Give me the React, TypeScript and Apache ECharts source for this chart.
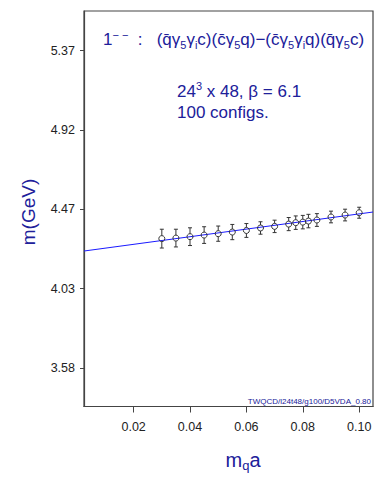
import React, { useEffect, useRef } from "react";
import * as echarts from "echarts";

const quarkMass = [0.03, 0.035, 0.04, 0.045, 0.05, 0.055, 0.06, 0.065, 0.07, 0.075, 0.0775, 0.08, 0.082, 0.085, 0.09, 0.095, 0.1];
const mesonMass = [4.310, 4.313, 4.321, 4.330, 4.338, 4.347, 4.356, 4.370, 4.379, 4.392, 4.400, 4.403, 4.409, 4.415, 4.432, 4.443, 4.456];
const massError = [0.053, 0.050, 0.050, 0.047, 0.043, 0.043, 0.039, 0.035, 0.035, 0.037, 0.038, 0.038, 0.038, 0.036, 0.033, 0.033, 0.031];
const fitLine = [[0.0024, 4.240], [0.1049, 4.460]];
const yTicks = [3.58, 4.0275, 4.475, 4.9225, 5.37];
const yTickLabels = ["3.58", "4.03", "4.47", "4.92", "5.37"];
const xTicks = [0.02, 0.04, 0.06, 0.08, 0.1];
const xTickLabels = ["0.02", "0.04", "0.06", "0.08", "0.10"];

const BLUE = "#20209a";
const FONT = "Liberation Sans, Arial, sans-serif";

export default function App() {
  const ref = useRef<HTMLDivElement>(null);
  useEffect(() => {
    if (!ref.current) return;
    const chart = echarts.init(ref.current, null, { renderer: "svg" });
    const points = quarkMass.map((x, i) => [x, mesonMass[i], massError[i]]);
    const option: any = {
      animation: false,
      backgroundColor: "#ffffff",
      textStyle: { fontFamily: FONT },
      grid: {
        left: 84, top: 11, right: 9, bottom: 84.5,
        show: true, borderColor: "#444", borderWidth: 1.2, backgroundColor: "transparent",
      },
      xAxis: {
        type: "value", min: 0.0024, max: 0.1049,
        axisLine: { show: true, lineStyle: { color: "#444", width: 1.2 } },
        axisTick: { show: true, inside: false, length: 6, customValues: xTicks, lineStyle: { color: "#444" } },
        axisLabel: {
          customValues: xTicks, margin: 14, color: "#222", fontSize: 12.5, fontFamily: FONT,
          formatter: (v: number) => xTickLabels[xTicks.findIndex((t) => Math.abs(t - v) < 1e-6)] ?? "",
        },
        splitLine: { show: false },
      },
      yAxis: {
        type: "value", min: 3.363, max: 5.594,
        axisLine: { show: true, lineStyle: { color: "#444", width: 1.2 } },
        axisTick: { show: true, inside: false, length: 4, customValues: yTicks, lineStyle: { color: "#444" } },
        axisLabel: {
          customValues: yTicks, margin: 9, color: "#222", fontSize: 12.5, fontFamily: FONT,
          formatter: (v: number) => yTickLabels[yTicks.findIndex((t) => Math.abs(t - v) < 1e-6)] ?? "",
        },
        splitLine: { show: false },
      },
      graphic: [
        {
          type: "text", left: 103, top: 29,
          style: {
            text: "{n|1}{sup|− −}{n|  :   (q\u0304γ}{sub|5}{n|γ}{sub|i}{n|c)(c\u0304γ}{sub|5}{n|q)−(c\u0304γ}{sub|5}{n|γ}{sub|i}{n|q)(q\u0304γ}{sub|5}{n|c)}",
            rich: {
              n: { fontSize: 17, fill: BLUE, fontFamily: FONT, lineHeight: 21, verticalAlign: "middle" },
              sub: { fontSize: 11, fill: BLUE, fontFamily: FONT, lineHeight: 10, verticalAlign: "bottom" },
              sup: { fontSize: 11, fill: BLUE, fontFamily: FONT, lineHeight: 10, verticalAlign: "top" },
            },
          },
        },
        {
          type: "text", left: 177, top: 80,
          style: {
            text: "{n|24}{sup|3}{n| x 48, β = 6.1}",
            rich: {
              n: { fontSize: 17, fill: BLUE, fontFamily: FONT, lineHeight: 22, verticalAlign: "middle" },
              sup: { fontSize: 11, fill: BLUE, fontFamily: FONT, lineHeight: 11, verticalAlign: "top" },
            },
          },
        },
        {
          type: "text", left: 177, top: 104,
          style: { text: "100 configs.", fontSize: 17, fill: BLUE, fontFamily: FONT },
        },
        {
          type: "text", right: 11, top: 397,
          style: { text: "TWQCD/l24t48/g100/D5VDA_0.80", fontSize: 8, fill: BLUE, fontFamily: FONT },
        },
        {
          type: "text", x: 28, y: 212, rotation: Math.PI / 2,
          style: { text: "m(GeV)", fontSize: 19, fill: BLUE, fontFamily: FONT, align: "center", verticalAlign: "middle" },
        },
        {
          type: "text", x: 243, y: 460,
          style: {
            text: "{n|m}{sub|q}{n|a}",
            align: "center", verticalAlign: "middle",
            rich: {
              n: { fontSize: 20, fill: BLUE, fontFamily: FONT, lineHeight: 24, verticalAlign: "middle" },
              sub: { fontSize: 13, fill: BLUE, fontFamily: FONT, lineHeight: 13, verticalAlign: "bottom" },
            },
          },
        },
      ],
      series: [
        {
          type: "line", data: fitLine, symbol: "none", z: 1,
          lineStyle: { color: "#1a1aff", width: 1 },
        },
        {
          type: "custom", z: 3, data: points,
          renderItem: (params: any, api: any) => {
            const x = api.value(0), y = api.value(1), e = api.value(2);
            const c = api.coord([x, y]);
            const lo = api.coord([x, y - e]);
            const hi = api.coord([x, y + e]);
            const st = { stroke: "#333", lineWidth: 1 };
            return {
              type: "group",
              children: [
                { type: "line", shape: { x1: c[0], y1: hi[1], x2: c[0], y2: c[1] - 3 }, style: st },
                { type: "line", shape: { x1: c[0], y1: c[1] + 3, x2: c[0], y2: lo[1] }, style: st },
                { type: "line", shape: { x1: c[0] - 2, y1: hi[1], x2: c[0] + 2, y2: hi[1] }, style: st },
                { type: "line", shape: { x1: c[0] - 2, y1: lo[1], x2: c[0] + 2, y2: lo[1] }, style: st },
                { type: "circle", shape: { cx: c[0], cy: c[1], r: 3 }, style: { stroke: "#333", fill: "none", lineWidth: 1 } },
              ],
            };
          },
        },
      ],
    };
    chart.setOption(option);
    return () => chart.dispose();
  }, []);
  return <div ref={ref} style={{ position: "fixed", left: 0, top: 0, width: 382, height: 491 }} />;
}
